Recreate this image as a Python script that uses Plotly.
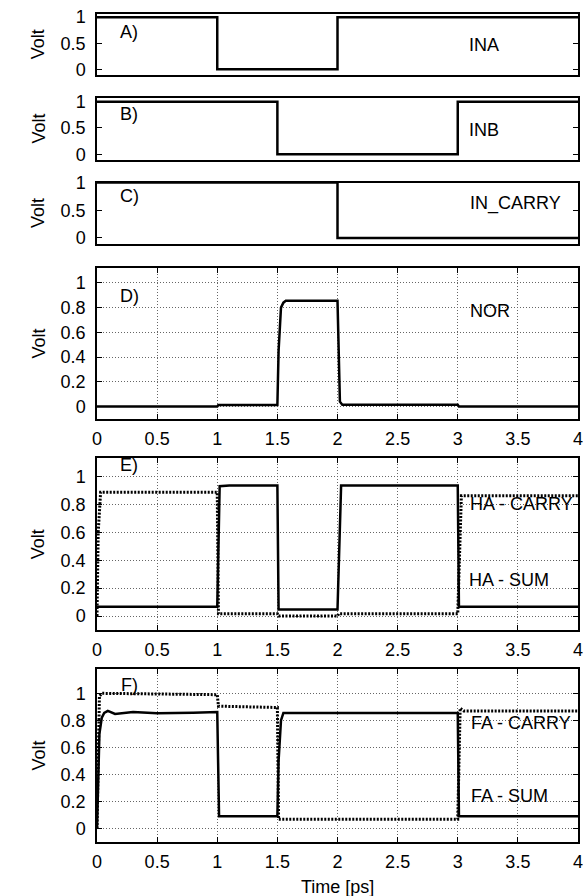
import plotly.graph_objects as go

# ---------------- data ----------------
INA_t = [0, 1.0, 1.0, 2.0, 2.0, 4]
INA_v = [1, 1, 0, 0, 1, 1]

INB_t = [0, 1.5, 1.5, 3.0, 3.0, 4]
INB_v = [1, 1, 0, 0, 1, 1]

INC_t = [0, 2.0, 2.0, 4]
INC_v = [1, 1, 0, 0]

NOR_t = [0, 1.0, 1.01, 1.5, 1.51, 1.52, 1.53, 1.55, 1.57, 2.0, 2.01, 2.02, 2.04, 3.0, 3.01, 4]
NOR_v = [0, 0, 0.013, 0.013, 0.45, 0.7, 0.8, 0.84, 0.855, 0.855, 0.3, 0.04, 0.015, 0.015, 0, 0]

HAS_t = [0, 1.0, 1.02, 1.1, 1.3, 1.5, 1.51, 2.0, 2.03, 3.0, 3.01, 4]
HAS_v = [0.066, 0.066, 0.93, 0.935, 0.935, 0.935, 0.047, 0.047, 0.935, 0.935, 0.066, 0.066]

HAC_t = [0, 0.01, 0.03, 1.0, 1.01, 1.5, 1.51, 2.0, 2.01, 3.0, 3.03, 4]
HAC_v = [0, 0.6, 0.887, 0.887, 0.016, 0.016, 0.0, 0.0, 0.016, 0.016, 0.861, 0.861]

FAS_t = [0, 0.01, 0.02, 0.04, 0.06, 0.09, 0.15, 0.3, 0.5, 0.8, 1.0, 1.015, 1.5, 1.51, 1.53, 1.55, 3.0, 3.01, 4]
FAS_v = [0, 0.4, 0.7, 0.82, 0.855, 0.87, 0.848, 0.862, 0.852, 0.857, 0.862, 0.09, 0.09, 0.5, 0.8, 0.855, 0.855, 0.09, 0.09]

FAC_t = [0, 0.02, 0.04, 1.0, 1.01, 1.5, 1.51, 3.0, 3.02, 3.05, 4]
FAC_v = [0, 0.98, 1.0, 0.99, 0.905, 0.895, 0.068, 0.068, 0.89, 0.87, 0.87]

X_TICKS = [0, 0.5, 1, 1.5, 2, 2.5, 3, 3.5, 4]
X_LABELS = ["0", "0.5", "1", "1.5", "2", "2.5", "3", "3.5", "4"]
Y_TICKS_IN = [0, 0.5, 1]
Y_LABELS_IN = ["0", "0.5", "1"]
Y_TICKS_OUT = [0, 0.2, 0.4, 0.6, 0.8, 1]
Y_LABELS_OUT = ["0", "0.2", "0.4", "0.6", "0.8", "1"]

PANEL_LETTERS = ["A)", "B)", "C)", "D)", "E)", "F)"]

# ---------------- layout geometry (pixels) ----------------
W, H = 585, 896
L, R = 97, 7
panels_px = [(13.5, 75), (97.5, 159.5), (182.5, 243.5), (268, 419), (458.3, 630), (669, 842)]
yranges = [[-0.11, 1.07], [-0.1, 1.08], [-0.1, 1.0], [-0.1, 1.12], [-0.1, 1.13], [-0.1, 1.18]]

FONT = "Liberation Sans, Arial, Helvetica, sans-serif"
FS = 18

fig = go.Figure()

solid = dict(color="black", width=2.5)
dotted = dict(color="black", width=3, dash="2px,1.5px")

series = [
    (1, INA_t, INA_v, solid),
    (2, INB_t, INB_v, solid),
    (3, INC_t, INC_v, solid),
    (4, NOR_t, NOR_v, solid),
    (5, HAC_t, HAC_v, dotted),
    (5, HAS_t, HAS_v, solid),
    (6, FAC_t, FAC_v, dotted),
    (6, FAS_t, FAS_v, solid),
]
for idx, t, v, ln in series:
    fig.add_trace(go.Scatter(x=t, y=v, mode="lines", line=ln,
                             xaxis="x" if idx == 1 else f"x{idx}",
                             yaxis="y" if idx == 1 else f"y{idx}",
                             showlegend=False, hoverinfo="skip"))

layout = dict(width=W, height=H, margin=dict(l=L, r=R, t=0, b=0, autoexpand=False),
              paper_bgcolor="white", plot_bgcolor="white",
              font=dict(family=FONT, size=FS, color="black"))

for i, (top, bot) in enumerate(panels_px):
    n = i + 1
    xa = "xaxis" if n == 1 else f"xaxis{n}"
    ya = "yaxis" if n == 1 else f"yaxis{n}"
    yname = "y" if n == 1 else f"y{n}"
    xname = "x" if n == 1 else f"x{n}"
    grid = n >= 4
    layout[xa] = dict(domain=[0, 1], range=[0, 4], anchor=yname, automargin=False,
                      showline=True, linecolor="black", linewidth=1.5, mirror="ticks" if grid else True,
                      ticks="inside" if grid else "", ticklen=5, tickcolor="black",
                      tickvals=X_TICKS, ticktext=X_LABELS, showticklabels=grid,
                      ticklabeloverflow="allow", ticklabelstandoff=3,
                      showgrid=grid, gridcolor="#666666", griddash="1px,2px", gridwidth=1,
                      zeroline=False, fixedrange=True)
    layout[ya] = dict(domain=[1 - bot / H, 1 - top / H], range=yranges[i], anchor=xname, automargin=False,
                      showline=True, linecolor="black", linewidth=1.5, mirror="ticks",
                      ticks="inside", ticklen=5, tickcolor="black",
                      tickvals=Y_TICKS_OUT if grid else Y_TICKS_IN,
                      ticktext=Y_LABELS_OUT if grid else Y_LABELS_IN,
                      ticklabeloverflow="allow", ticklabelstandoff=6,
                      showgrid=grid, gridcolor="#666666", griddash="1px,2px", gridwidth=1,
                      zeroline=False, fixedrange=True)

fig.update_layout(**layout)

# ---------------- annotations ----------------
ann = []
letter_y = [0.72, 0.775, 0.75, 0.89, 1.08, 1.06]
for i, ly in enumerate(letter_y):
    n = i + 1
    ann.append(dict(x=0.27, y=ly, xref="x" if n == 1 else f"x{n}", yref="y" if n == 1 else f"y{n}",
                    text=PANEL_LETTERS[i], showarrow=False, font=dict(size=FS),
                    xanchor="center", yanchor="middle"))

signal_labels = [
    (1, 3.22, 0.47, "INA"),
    (2, 3.22, 0.47, "INB"),
    (3, 3.48, 0.63, "IN_CARRY"),
    (4, 3.27, 0.77, "NOR"),
    (5, 3.53, 0.80, "HA - CARRY"),
    (5, 3.43, 0.26, "HA - SUM"),
    (6, 3.53, 0.78, "FA - CARRY"),
    (6, 3.43, 0.24, "FA - SUM"),
]
for n, x, y, txt in signal_labels:
    ann.append(dict(x=x, y=y, xref="x" if n == 1 else f"x{n}", yref="y" if n == 1 else f"y{n}",
                    text=txt, showarrow=False, font=dict(size=FS),
                    xanchor="center", yanchor="middle"))

plot_w = W - L - R
for top, bot in panels_px:
    yc = 1 - ((top + bot) / 2) / H
    ann.append(dict(x=(38 - L) / plot_w, y=yc, xref="paper", yref="paper", text="Volt",
                    textangle=-90, showarrow=False, font=dict(size=FS),
                    xanchor="center", yanchor="middle"))

ann.append(dict(x=0.5, y=1 - 886.5 / H, xref="paper", yref="paper", text="Time [ps]",
                showarrow=False, font=dict(size=FS), xanchor="center", yanchor="middle"))

fig.update_layout(annotations=ann)
fig.write_html("out.html", config={"displayModeBar": False},
               post_script="document.body.style.margin='0';document.body.style.overflow='hidden';")
